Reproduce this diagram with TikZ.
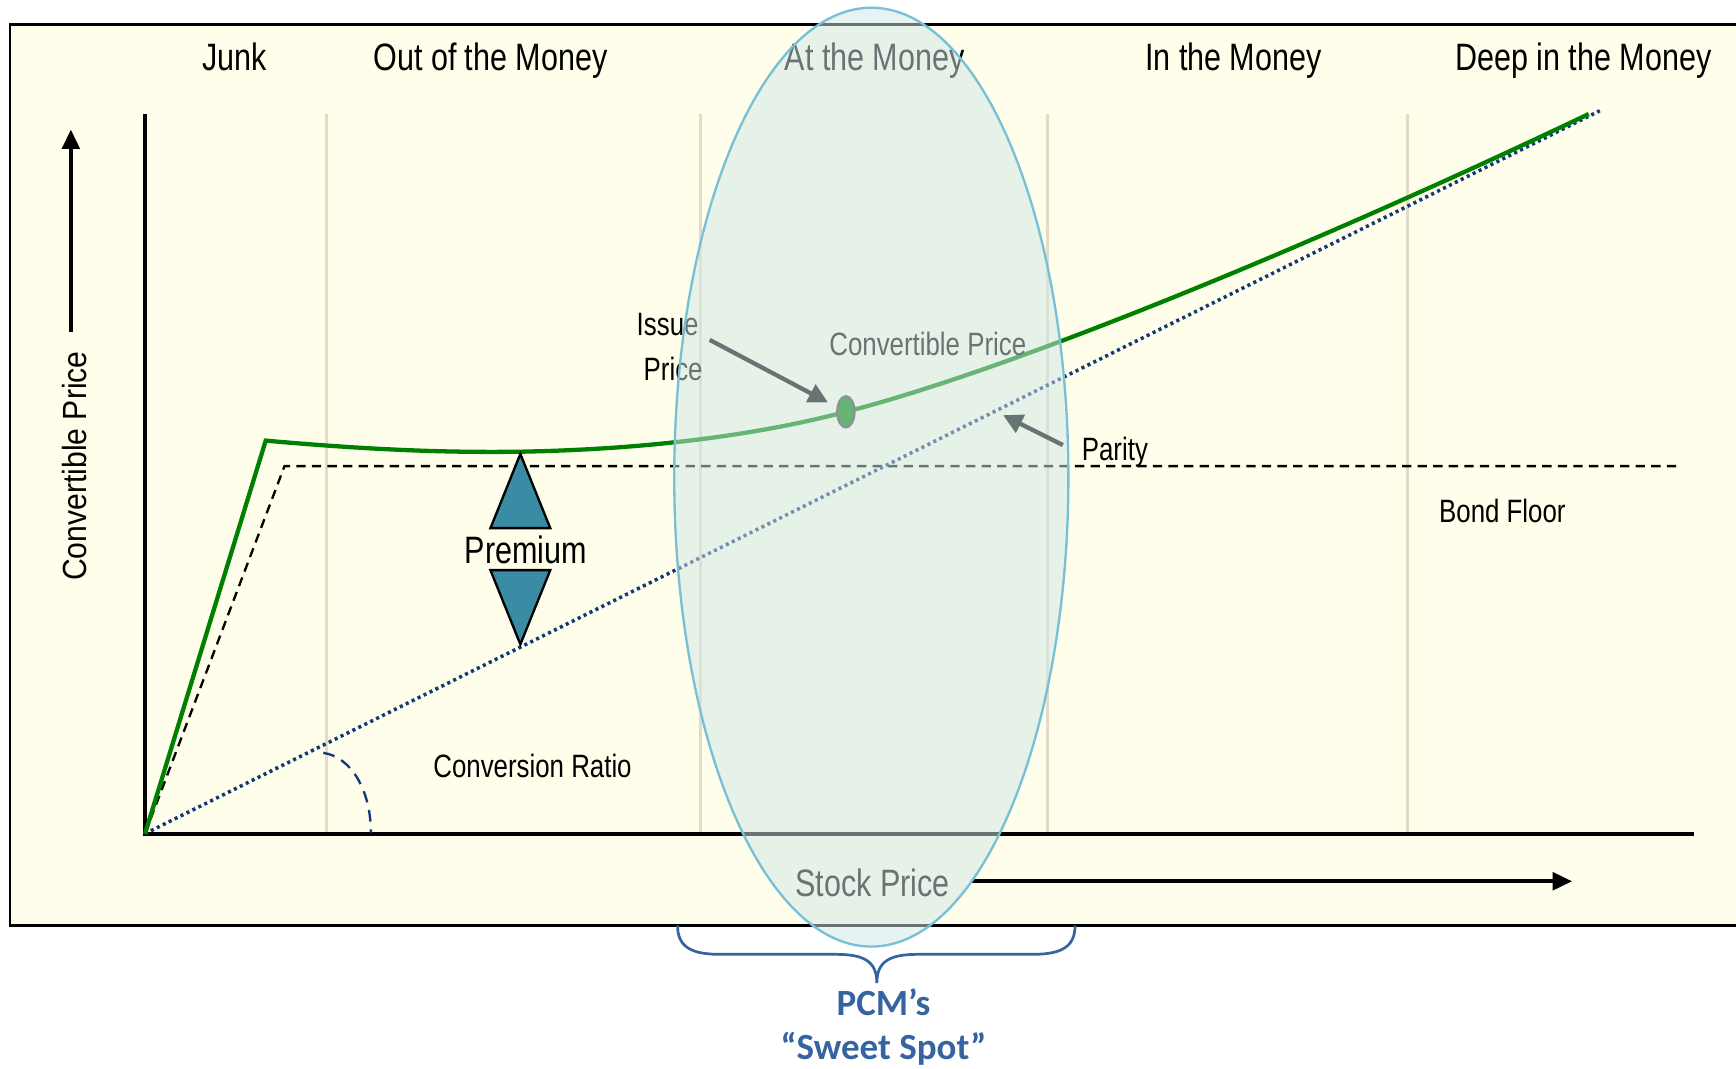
\documentclass[tikz,border=0pt]{standalone}
\usepackage{fontspec}
\setmainfont{Liberation Sans}
\newfontfamily\narrow[FakeStretch=0.8]{Liberation Sans}
\newfontfamily\slim[FakeStretch=0.9]{Liberation Sans}
\newfontfamily\calib{Carlito}
\usepackage{tikz}
\usetikzlibrary{calc}
\usetikzlibrary{arrows.meta}
\usetikzlibrary{shapes.geometric}

\definecolor{paper}{RGB}{254,254,234}
\definecolor{gridline}{RGB}{228,218,200}
\definecolor{curve}{RGB}{0,128,0}
\definecolor{parity}{RGB}{20,55,120}
\definecolor{premium}{RGB}{58,140,165}
\definecolor{spot}{RGB}{208,232,232}
\definecolor{spotedge}{RGB}{120,192,214}
\definecolor{pcm}{RGB}{54,100,160}

\begin{document}
\begin{tikzpicture}[x = 0.01cm, y = -0.01cm,
	bigtext/.style = {font = \narrow\fontsize{9.8}{12}\selectfont, inner sep = 0pt, anchor = base},
	smalltext/.style = {font = \narrow\fontsize{8.3}{10}\selectfont, inner sep = 0pt, anchor = base},
	pointer/.style = {line width = 1.1pt, -{Triangle[length = 5pt, width = 5pt]}}]
	\useasboundingbox (0, 0) rectangle (1568, 965);
	\fill[paper] (9, 22) rectangle (1568, 836);
	\draw[semithick] (1568, 22)--(9, 22)--(9, 836)--(1568, 836);

	\foreach \x in {295, 633, 946, 1271}
		\draw[gridline, line width = 0.8pt] (\x, 103)--(\x, 754);

	\coordinate[](o) at (131, 753);
	\coordinate[](k) at (240, 398);
	\draw[line width = 1pt] (131, 103)--(o)--(1530, 753);

	\draw[semithick, dash pattern = on 2.4pt off 1.6pt] (o)--(257, 421)--(1515, 421);
	\draw[parity, line width = 0.9pt, dash pattern = on 0.8pt off 0.9pt] (o)--(1445, 100);
	\draw[curve, line width = 1.1pt] (o)--(k) .. controls (330, 406) and (400, 409) .. (470, 408)
		.. controls (580, 406) and (680, 394) .. (764, 372)
		.. controls (920, 332) and (1200, 215) .. (1435, 103);
	\draw[parity, semithick, dash pattern = on 3pt off 2pt] (292, 680) .. controls (318, 684) and (335, 715) .. (335, 752);

	\draw[fill = premium, semithick] (470, 410)--(497, 477)--(443, 477)--cycle;
	\draw[fill = premium, semithick] (443, 515)--(497, 515)--(470, 582)--cycle;

	\node[bigtext] (junk) at (212, 64){Junk};
	\node[bigtext] (otm) at (443, 64){Out of the Money};
	\node[bigtext] (atm) at (790, 64){At the Money};
	\node[bigtext] (itm) at (1114, 64){In the Money};
	\node[bigtext] (deep) at (1430, 64){Deep in the Money};
	\node[font = \slim\fontsize{8.6}{10}\selectfont, inner sep = 0pt, rotate = 90, anchor = base] (ylab) at (78, 421){Convertible Price};
	\node[bigtext] (prem) at (475, 509){Premium};
	\node[smalltext] (ratio) at (481, 702){Conversion Ratio};
	\node[smalltext] (issue) at (603, 303){Issue};
	\node[smalltext] (price) at (608, 344){Price};
	\node[smalltext] (conv) at (838, 321){Convertible Price};
	\node[smalltext] (par) at (1007, 416){Parity};
	\node[smalltext] (floor) at (1357, 472){Bond Floor};
	\node[bigtext] (stock) at (788, 810){Stock Price};

	\node[ellipse, draw = black!75, fill = curve, semithick, inner sep = 0pt, minimum width = 4.4pt, minimum height = 8pt] (dot) at (764, 372){};

	\coordinate[](ia) at (641, 307);
	\coordinate[](pa) at (960, 402);
	\coordinate[](pb) at (906, 375);
	\coordinate[](sa) at (878, 796);
	\coordinate[](sb) at (1420, 796);
	\coordinate[](ua) at (64, 300);
	\coordinate[](ub) at (64, 117);
	\draw[pointer, shorten > = 2.5pt] (ia)--(dot);
	\draw[pointer] (pa)--(pb);
	\draw[line width = 1pt, -{Triangle[length = 5pt, width = 4.5pt]}] (sa)--(sb);
	\draw[line width = 1pt, -{Triangle[length = 5pt, width = 4.5pt]}] (ua)--(ub);

	\draw[spotedge, fill = spot, fill opacity = 0.5, semithick] (787, 431) ellipse [x radius = 178, y radius = 424];

	\draw[pcm, line width = 0.7pt] (612, 836) .. controls (612, 855) and (624, 862) .. (650, 862)--(755, 862)
		.. controls (780, 862) and (792, 868) .. (792, 888)
		.. controls (792, 868) and (804, 862) .. (829, 862)--(933, 862)
		.. controls (959, 862) and (971, 855) .. (971, 836);
	\node[font = \calib\bfseries\fontsize{9.5}{11}\selectfont, text = pcm, inner sep = 0pt, anchor = base] (pcmname) at (798, 917){PCM’s};
	\node[font = \calib\bfseries\fontsize{9.5}{11}\selectfont, text = pcm, inner sep = 0pt, anchor = base] (sweet) at (798, 957){“Sweet Spot”};
\end{tikzpicture}
\end{document}
